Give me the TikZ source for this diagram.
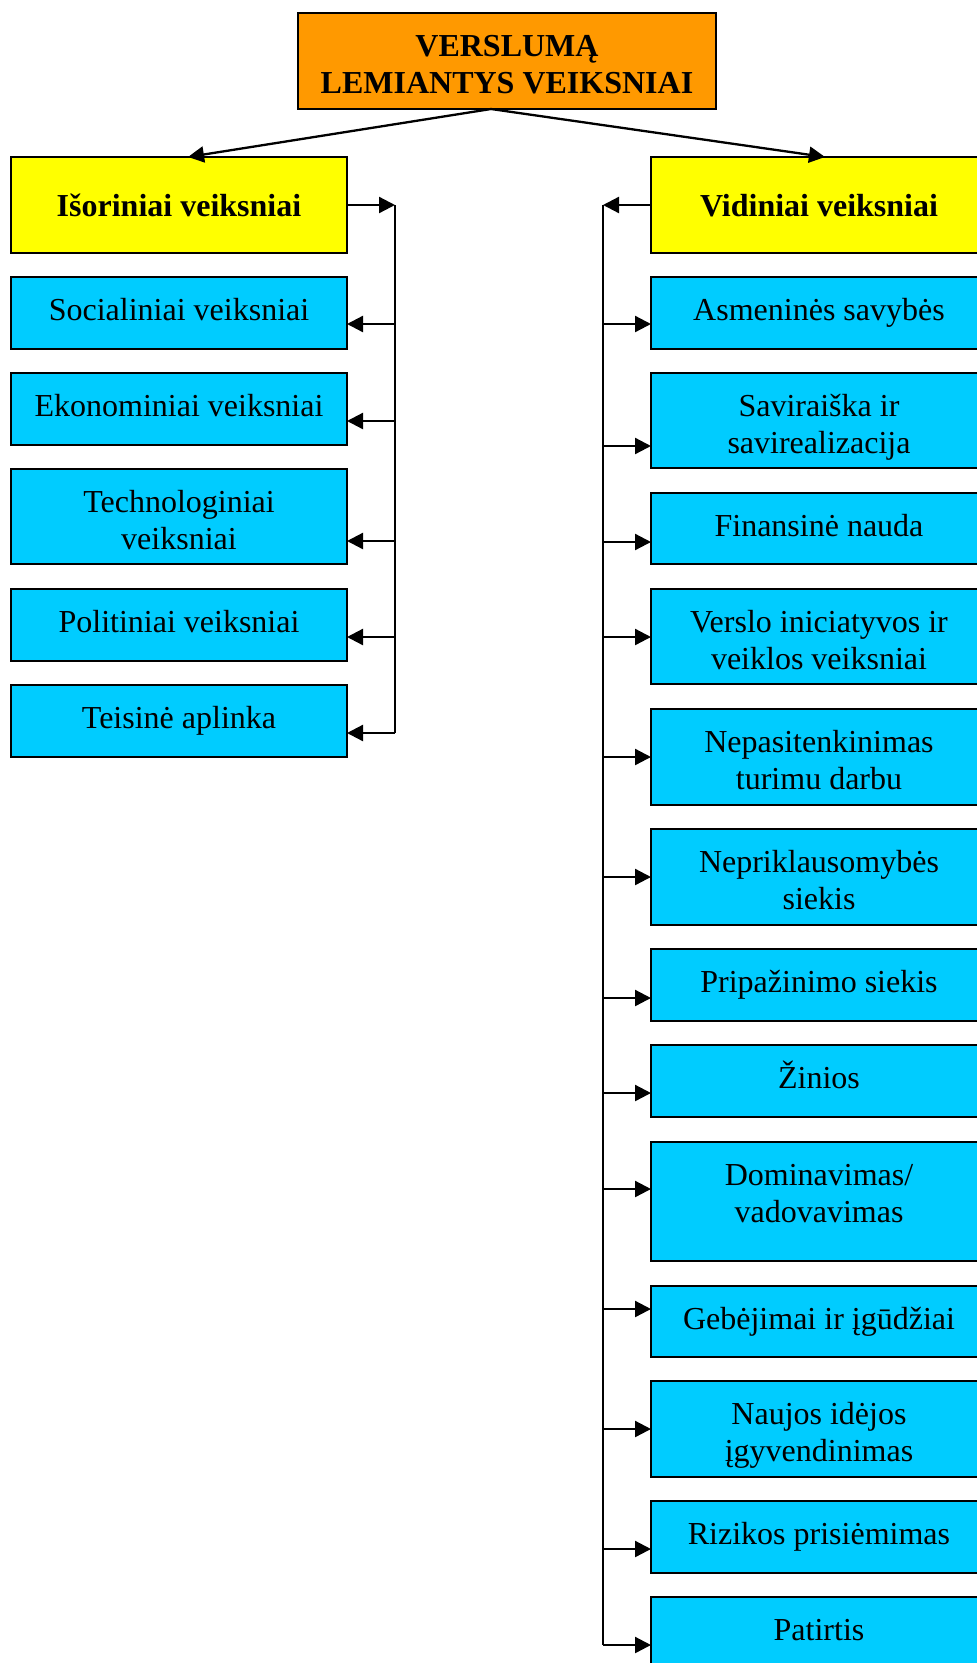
\documentclass[tikz,border=0pt]{standalone}
\usepackage{fontspec}
\setmainfont{Liberation Serif}
\usetikzlibrary{arrows.meta}
\definecolor{orangebox}{HTML}{FF9900}
\definecolor{yellowbox}{HTML}{FFFF00}
\definecolor{cyanbox}{HTML}{00CCFF}
% #1 = box height, #2 = first baseline below top, #3 = text
\newcommand{\bxt}[3]{\parbox[c][#1][t]{336pt}{\centering\rule{0pt}{#2}#3}}
\begin{document}
\begin{tikzpicture}[x=1pt,y=-1pt,
  boxbase/.style={draw=black, line width=2pt, inner sep=0pt, outer sep=0pt, anchor=north west,
    font=\fontsize{32}{37}\selectfont},
  cbox/.style={boxbase, fill=cyanbox},
  ybox/.style={boxbase, fill=yellowbox, font=\fontsize{32}{37}\selectfont\bfseries},
  obox/.style={boxbase, fill=orangebox, font=\fontsize{32}{37}\selectfont\bfseries},
  conn/.style={line width=2.3pt, draw=black},
  arr/.style={conn, -{Triangle[length=16pt,width=16pt]}}]
\useasboundingbox (0,0) rectangle (977,1663);
\clip (0,0) rectangle (977,1663);

% title
\node[obox] (top) at (298,13) {\parbox[c][96pt][t]{418pt}{\centering\rule{0pt}{43pt}VERSLUMĄ\\LEMIANTYS VEIKSNIAI}};

% yellow heads
\node[ybox] (isor) at (11,157) {\bxt{96pt}{59pt}{Išoriniai veiksniai}};
\node[ybox] (vid) at (651,157) {\bxt{96pt}{59pt}{Vidiniai veiksniai}};

% left column
\node[cbox] (soc)  at (11,277) {\bxt{72pt}{43pt}{Socialiniai veiksniai}};
\node[cbox] (eko)  at (11,373) {\bxt{72pt}{43pt}{Ekonominiai veiksniai}};
\node[cbox] (tech) at (11,469) {\bxt{95pt}{43pt}{Technologiniai\\veiksniai}};
\node[cbox] (pol)  at (11,589) {\bxt{72pt}{43pt}{Politiniai veiksniai}};
\node[cbox] (teis) at (11,685) {\bxt{72pt}{43pt}{Teisinė aplinka}};

% right column
\node[cbox] (asm)  at (651,277)  {\bxt{72pt}{43pt}{Asmeninės savybės}};
\node[cbox] (sav)  at (651,373)  {\bxt{95pt}{43pt}{Saviraiška ir\\savirealizacija}};
\node[cbox] (fin)  at (651,493)  {\bxt{71pt}{43pt}{Finansinė nauda}};
\node[cbox] (ver)  at (651,589)  {\bxt{95pt}{43pt}{Verslo iniciatyvos ir\\veiklos veiksniai}};
\node[cbox] (nep)  at (651,709)  {\bxt{96pt}{43pt}{Nepasitenkinimas\\turimu darbu}};
\node[cbox] (nepr) at (651,829)  {\bxt{96pt}{43pt}{Nepriklausomybės\\siekis}};
\node[cbox] (prip) at (651,949)  {\bxt{72pt}{43pt}{Pripažinimo siekis}};
\node[cbox] (zin)  at (651,1045) {\bxt{72pt}{43pt}{Žinios}};
\node[cbox] (dom)  at (651,1142) {\bxt{119pt}{43pt}{Dominavimas/\\vadovavimas}};
\node[cbox] (geb)  at (651,1286) {\bxt{71pt}{43pt}{Gebėjimai ir įgūdžiai}};
\node[cbox] (nau)  at (651,1381) {\bxt{96pt}{43pt}{Naujos idėjos\\įgyvendinimas}};
\node[cbox] (riz)  at (651,1501) {\bxt{72pt}{43pt}{Rizikos prisiėmimas}};
\node[cbox] (pat)  at (651,1597) {\bxt{96pt}{43pt}{Patirtis}};

% top arrows
\coordinate (apex) at ([xshift=-16pt]top.south);
\draw[arr] (apex) -- ([xshift=9pt]isor.north);
\draw[arr] (apex) -- ([xshift=6pt]vid.north);

% buses
\coordinate (Lbus) at (395,205);
\coordinate (Lend) at (395,733);
\coordinate (Rbus) at (603,205);
\coordinate (Rend) at (603,1645);
\draw[conn] (Lbus) -- (Lend);
\draw[conn] (Rbus) -- (Rend);
\draw[arr] (isor.east |- Lbus) -- (Lbus);
\draw[arr] (vid.west |- Rbus) -- (Rbus);

\foreach \n/\yy in {soc/324, eko/421, tech/541, pol/637, teis/733}
  \draw[arr] (Lbus |- 0,\yy) -- (\n.east |- 0,\yy);

\foreach \n/\yy in {asm/324, sav/446, fin/542, ver/637, nep/757, nepr/877, prip/998,
                    zin/1093, dom/1189, geb/1309, nau/1429, riz/1549, pat/1645}
  \draw[arr] (Rbus |- 0,\yy) -- (\n.west |- 0,\yy);
\end{tikzpicture}
\end{document}
